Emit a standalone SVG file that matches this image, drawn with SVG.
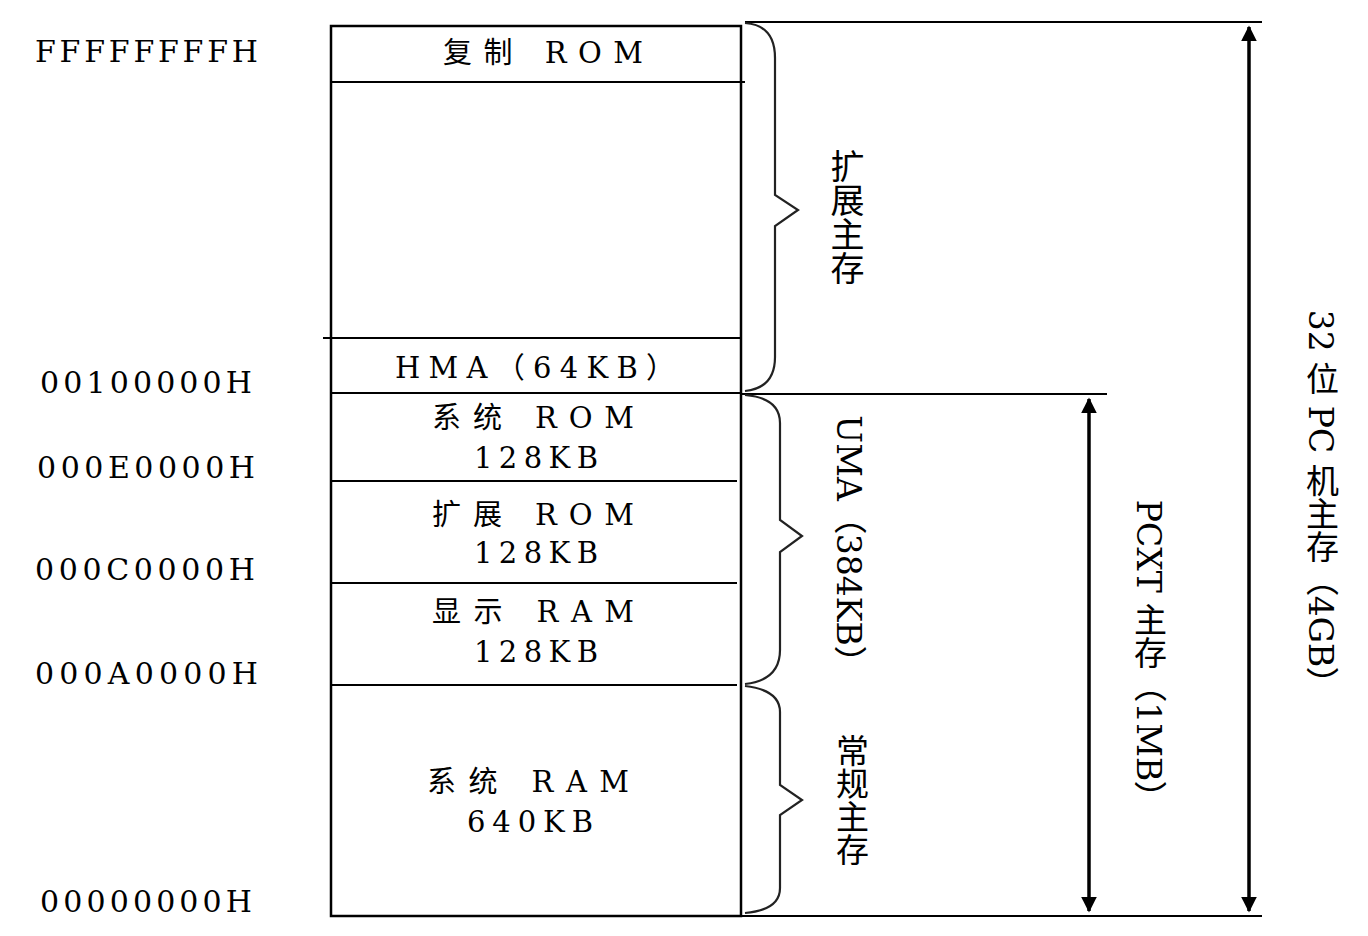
<svg xmlns="http://www.w3.org/2000/svg" width="1368" height="936" viewBox="0 0 1368 936">
<style>
.t{font-family:"DejaVu Serif","Noto Sans CJK SC",serif;font-size:29px;fill:#000}
.a{font-family:"DejaVu Serif",serif;font-size:30px;fill:#000}
.v{font-family:"DejaVu Serif","Noto Sans CJK SC",serif;font-size:32px;fill:#000;writing-mode:vertical-rl}
.ln{stroke:#000;stroke-width:2;fill:none}
.br{stroke:#222;stroke-width:2.2;fill:none}
.ar{stroke:#000;stroke-width:3.5;fill:none}
</style>
<defs>
<marker id="ah" viewBox="0 0 10 10" refX="9" refY="5" markerWidth="4.5" markerHeight="4.5" orient="auto-start-reverse" markerUnits="strokeWidth">
<path d="M0,0 L10,5 L0,10 z" fill="#000"/>
</marker>
</defs>
<rect width="1368" height="936" fill="#fff"/>
<g id="addresses">
<text class="a" x="35" y="62" textLength="223" lengthAdjust="spacing">FFFFFFFFH</text>
<text class="a" x="40" y="393" textLength="212" lengthAdjust="spacing">00100000H</text>
<text class="a" x="37" y="478" textLength="218" lengthAdjust="spacing">000E0000H</text>
<text class="a" x="35" y="580" textLength="220" lengthAdjust="spacing">000C0000H</text>
<text class="a" x="35" y="684" textLength="223" lengthAdjust="spacing">000A0000H</text>
<text class="a" x="40" y="912" textLength="212" lengthAdjust="spacing">00000000H</text>
</g>
<g id="memory-map">
<rect x="331" y="26" width="410" height="890" fill="none" stroke="#000" stroke-width="2.5"/>
<line class="ln" x1="331" y1="82" x2="745" y2="82"/>
<line class="ln" x1="323" y1="338" x2="741" y2="338"/>
<line class="ln" x1="331" y1="393" x2="741" y2="393"/>
<line class="ln" x1="331" y1="481" x2="737" y2="481"/>
<line class="ln" x1="331" y1="583" x2="737" y2="583"/>
<line class="ln" x1="331" y1="685" x2="737" y2="685"/>
</g>
<g id="copy-rom"><text class="t" x="543" y="63" text-anchor="middle" textLength="200" lengthAdjust="spacing">复制 ROM</text></g>
<g id="hma"><text class="t" x="535" y="378" text-anchor="middle" textLength="280" lengthAdjust="spacing">HMA（64KB）</text></g>
<g id="sys-rom"><text class="t" x="533" y="428" text-anchor="middle" textLength="202" lengthAdjust="spacing">系统 ROM</text><text class="t" x="536" y="468" text-anchor="middle" textLength="124" lengthAdjust="spacing">128KB</text></g>
<g id="ext-rom"><text class="t" x="533" y="525" text-anchor="middle" textLength="202" lengthAdjust="spacing">扩展 ROM</text><text class="t" x="536" y="563" text-anchor="middle" textLength="124" lengthAdjust="spacing">128KB</text></g>
<g id="video-ram"><text class="t" x="533" y="622" text-anchor="middle" textLength="202" lengthAdjust="spacing">显示 RAM</text><text class="t" x="536" y="662" text-anchor="middle" textLength="124" lengthAdjust="spacing">128KB</text></g>
<g id="sys-ram"><text class="t" x="528" y="792" text-anchor="middle" textLength="202" lengthAdjust="spacing">系统 RAM</text><text class="t" x="530" y="832" text-anchor="middle" textLength="126" lengthAdjust="spacing">640KB</text></g>
<g id="connectors">
<line class="ln" x1="745" y1="22" x2="1262" y2="22"/>
<line class="ln" x1="741" y1="394" x2="1107" y2="394"/>
<line class="ln" x1="741" y1="916" x2="1262" y2="916"/>
<line class="ar" x1="1249" y1="27" x2="1249" y2="911" marker-start="url(#ah)" marker-end="url(#ah)"/>
<line class="ar" x1="1089" y1="399" x2="1089" y2="911" marker-start="url(#ah)" marker-end="url(#ah)"/>
<path class="br" d="M745,23 Q775,25 775,58 L775,195 L798,210 L775,226 L775,357 Q775,388 745,391"/>
<path class="br" d="M745,395 Q780,398 780,423 L780,520 L802,536 L780,552 L780,650 Q780,680 745,684"/>
<path class="br" d="M745,686 Q780,690 780,712 L780,785 L802,800 L780,815 L780,888 Q780,910 745,913"/>
</g>
<g id="ext-mem"><text class="v" x="845" y="217" text-anchor="middle" style="font-size:34px">扩展主存</text></g>
<g id="uma"><text class="v" x="848" y="547" text-anchor="middle" style="font-size:33px">UMA（384KB）</text></g>
<g id="conv-mem"><text class="v" x="850" y="800" text-anchor="middle" style="font-size:33px">常规主存</text></g>
<g id="pcxt"><text class="v" x="1148" y="657" text-anchor="middle" style="font-size:33px">PCXT 主存（1MB）</text></g>
<g id="pc32"><text class="v" x="1320" y="505" text-anchor="middle" style="font-size:33px">32 位 PC 机主存（4GB）</text></g>
</svg>
